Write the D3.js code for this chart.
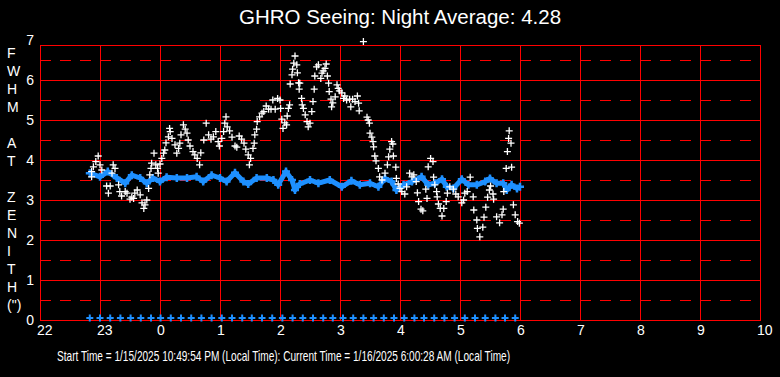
<!DOCTYPE html>
<html lang="en">
<head>
    <meta charset="UTF-8">
    <title>GHRO Seeing</title>
    <script src="https://d3js.org/d3.v7.min.js"></script>
    <style>
        body { margin: 0; background: #000; }
        text { font-family: "Liberation Sans", Arial, sans-serif; fill: #fff; }
        .grid line { stroke: #ff0000; stroke-width: 1; shape-rendering: crispEdges; }
        .grid path { display: none; }
        .half line { stroke-dasharray: 11,9; }
    </style>
</head>
<body>
    <div id="chart"></div>

    <script>
        // seeing samples: hour of night (past 24 = after midnight) and FWHM
        const seeingTimes = [22.86,22.89,22.93,22.97,23.00,23.03,22.86,23.11,23.17,23.14,23.22,23.25,23.20,23.31,23.33,23.36,23.42,23.45,23.50,23.53,23.56,23.58,23.62,23.67,23.70,23.73,23.75,23.78,23.81,23.83,23.85,23.86,23.90,23.93,23.96,23.97,24.00,24.03,24.06,24.08,24.10,24.14,24.17,24.16,24.20,24.25,24.28,24.31,24.33,24.35,24.39,24.42,24.45,24.47,24.50,24.55,24.58,24.62,24.66,24.68,24.73,24.77,24.81,24.85,24.89,24.93,24.97,24.99,25.03,25.06,25.08,25.10,25.12,25.16,25.20,25.25,25.28,25.32,25.36,25.40,25.43,25.47,25.49,25.51,25.55,25.57,25.58,25.61,25.62,25.66,25.70,25.73,25.77,25.81,25.85,25.88,25.92,25.96,26.00,26.01,26.03,26.05,26.08,26.11,26.12,26.14,26.16,26.17,26.20,26.21,26.23,26.25,26.28,26.29,26.31,26.32,26.33,26.36,26.37,26.39,26.42,26.45,26.47,26.50,26.53,26.55,26.57,26.58,26.61,26.64,26.68,26.70,26.72,26.75,26.77,26.79,26.81,26.82,26.85,26.86,26.88,26.92,26.95,26.97,26.99,27.03,27.06,27.08,27.11,27.16,27.18,27.21,27.25,27.29,27.31,27.32,27.39,27.45,27.47,27.49,27.50,27.53,27.55,27.56,27.58,27.60,27.64,27.66,27.70,27.75,27.79,27.81,27.83,27.86,27.88,27.89,27.93,27.94,27.97,28.00,28.03,28.08,28.11,28.16,28.20,28.23,28.27,28.29,28.31,28.35,28.38,28.43,28.45,28.47,28.51,28.55,28.56,28.58,28.61,28.62,28.64,28.67,28.70,28.73,28.77,28.79,28.83,28.89,28.93,28.97,29.03,29.06,29.08,29.12,29.17,29.22,29.23,29.28,29.29,29.33,29.38,29.40,29.43,29.46,29.49,29.51,29.55,29.56,29.61,29.66,29.70,29.72,29.73,29.77,29.79,29.81,29.82,29.85,29.86,29.89,29.92,29.96,29.99];
        const seeingValues = [3.71,3.83,3.96,4.10,3.88,3.75,3.58,3.35,3.35,3.17,3.88,3.79,3.67,3.38,3.21,3.10,3.21,3.17,3.02,3.07,3.04,3.17,3.25,3.13,2.93,2.79,2.88,3.00,3.29,3.63,3.79,3.92,4.17,3.88,3.79,3.67,3.90,4.04,4.17,4.25,4.43,4.58,4.71,4.79,4.54,4.38,4.17,4.29,4.42,4.63,4.88,4.77,4.67,4.50,4.35,4.21,4.13,4.04,3.88,4.18,4.50,4.92,4.63,4.52,4.58,4.71,4.46,4.35,4.54,4.71,4.92,5.08,4.83,4.73,4.57,4.35,4.32,4.60,4.52,4.42,4.27,4.13,3.88,4.04,4.29,4.42,4.63,4.77,4.96,5.08,5.17,5.21,5.35,5.27,5.27,5.50,5.27,5.54,5.50,5.29,5.02,4.79,4.93,4.88,5.10,5.29,5.38,5.90,6.13,6.27,6.42,6.60,6.38,6.18,5.93,5.77,5.92,5.54,5.38,5.29,5.13,4.96,4.83,4.92,5.21,5.46,5.77,6.10,6.33,6.38,6.04,6.17,6.23,6.29,6.40,6.10,5.92,5.71,5.52,5.33,5.43,5.58,5.88,5.79,5.73,5.68,5.54,5.60,5.50,5.52,5.33,5.52,5.46,5.60,5.42,5.23,6.96,5.07,5.00,4.92,4.67,4.57,4.46,4.33,4.10,3.98,3.79,3.58,3.50,3.67,3.88,4.08,4.27,4.46,4.40,4.10,3.82,3.54,3.40,3.29,3.21,3.15,3.33,3.67,3.58,3.63,3.46,3.18,2.96,2.77,2.73,3.27,3.04,3.83,4.04,3.96,3.57,3.38,3.21,3.08,2.90,2.79,2.60,2.79,2.96,3.17,3.33,3.27,3.15,3.08,2.93,3.00,3.17,3.21,3.57,3.08,2.75,2.50,2.29,2.08,2.32,2.57,2.82,3.07,3.25,3.35,3.15,3.02,2.58,2.43,2.63,2.77,3.21,3.79,4.21,4.54,4.73,4.42,3.82,2.88,2.63,2.46,2.42];

        // blue trace
        const trendTimes = [22.83,23.00,23.13,23.28,23.42,23.53,23.67,23.78,23.88,24.00,24.11,24.28,24.45,24.61,24.72,24.86,25.00,25.11,25.25,25.39,25.47,25.61,25.78,25.89,25.97,26.10,26.20,26.25,26.33,26.50,26.64,26.83,27.03,27.19,27.33,27.50,27.64,27.75,27.86,27.94,28.06,28.20,28.36,28.47,28.58,28.70,28.78,28.89,29.03,29.14,29.28,29.42,29.50,29.61,29.72,29.78,29.86,29.95,30.00];
        const trendValues = [3.67,3.58,3.71,3.55,3.42,3.62,3.55,3.42,3.55,3.46,3.57,3.55,3.55,3.58,3.46,3.62,3.55,3.46,3.68,3.46,3.40,3.55,3.55,3.50,3.38,3.71,3.50,3.25,3.40,3.50,3.42,3.50,3.33,3.48,3.38,3.42,3.33,3.54,3.46,3.25,3.38,3.46,3.58,3.38,3.42,3.52,3.33,3.29,3.52,3.38,3.38,3.46,3.54,3.42,3.42,3.25,3.38,3.29,3.33];

        // markers along the bottom
        const baseTimes = [22.83,23.00,23.17,23.34,23.51,23.68,23.85,24.01,24.18,24.35,24.52,24.69,24.86,25.03,25.20,25.37,25.53,25.70,25.87,26.04,26.21,26.38,26.55,26.72,26.88,27.05,27.22,27.39,27.56,27.73,27.90,28.07,28.24,28.40,28.57,28.74,28.91,29.08,29.25,29.42,29.59,29.75,29.92];
        const baseValue = 0.05;

        const hourTicks = [22,23,24,25,26,27,28,29,30,31,32,33,34];
        const fwhmTicks = [0,1,2,3,4,5,6,7];
        const halfTicks = [0.5,1.5,2.5,3.5,4.5,5.5,6.5];
        const sideLetters = ["F","W","H","M","","A","T","","Z","E","N","I","T","H","(\")"];
        const title = "GHRO Seeing: Night Average: 4.28";
        const footer = "Start Time = 1/15/2025 10:49:54 PM (Local Time): Current Time = 1/16/2025 6:00:28 AM (Local Time)";

        const W = 780, H = 377;
        const pLeft = 40, pRight = 760, pTop = 45, pBottom = 320;

        const svg = d3.select("#chart").append("svg")
            .attr("width", W).attr("height", H)
            .style("background", "#000");

        const x = d3.scaleLinear().domain([22, 34]).range([pLeft, pRight]);
        const y = d3.scaleLinear().domain([0, 7]).range([pBottom, 40]);

        // dashed half-unit lines
        svg.append("g")
            .attr("class", "grid half")
            .attr("transform", `translate(${pLeft},0)`)
            .call(d3.axisLeft(y).tickValues(halfTicks).tickSize(-(pRight - pLeft)).tickFormat(""));

        // solid grid
        svg.append("g")
            .attr("class", "grid")
            .attr("transform", `translate(${pLeft},0)`)
            .call(d3.axisLeft(y).tickValues([1,2,3,4,5,6]).tickSize(-(pRight - pLeft)).tickFormat(""));

        svg.append("g")
            .attr("class", "grid")
            .attr("transform", `translate(0,${pBottom})`)
            .call(d3.axisBottom(x).tickValues(hourTicks).tickSize(-(pBottom - pTop)).tickFormat(""));

        svg.append("rect")
            .attr("x", pLeft + 0.5).attr("y", pTop + 0.5)
            .attr("width", pRight - pLeft).attr("height", pBottom - pTop)
            .attr("fill", "none").attr("stroke", "#ff0000");

        // axis labels
        const yAxis = svg.append("g")
            .attr("transform", `translate(34,0)`)
            .call(d3.axisLeft(y).tickValues(fwhmTicks).tickSize(0).tickPadding(0).tickFormat(d3.format("d")));
        yAxis.select(".domain").remove();
        yAxis.attr("font-family", null).attr("font-size", null);
        yAxis.selectAll("text").attr("font-size", 14).attr("fill", "#fff");

        const xAxis = svg.append("g")
            .attr("transform", `translate(0,${pBottom})`)
            .call(d3.axisBottom(x).tickValues(hourTicks).tickSize(0).tickFormat(d => d % 24));
        xAxis.select(".domain").remove();
        xAxis.attr("font-family", null).attr("font-size", null);
        xAxis.selectAll("text")
            .attr("font-size", 14).attr("fill", "#fff")
            .attr("text-anchor", "start").attr("x", -3.5).attr("dy", null).attr("y", 15);

        // blue trace
        svg.append("path")
            .datum(d3.zip(trendTimes, trendValues))
            .attr("fill", "none")
            .attr("stroke", "#1e90ff")
            .attr("stroke-width", 5)
            .attr("stroke-linejoin", "round")
            .attr("d", d3.line().x(d => x(d[0])).y(d => y(d[1])));

        const plus = s => `M${-s},0H${s}M0,${-s}V${s}`;

        svg.append("g").selectAll("path")
            .data(d3.zip(trendTimes, trendValues))
            .join("path")
            .attr("transform", d => `translate(${x(d[0])},${y(d[1])})`)
            .attr("d", plus(4))
            .attr("stroke", "#1e90ff").attr("stroke-width", 2.5);

        svg.append("g").selectAll("path")
            .data(baseTimes)
            .join("path")
            .attr("transform", d => `translate(${x(d)},${y(baseValue)})`)
            .attr("d", plus(3.5))
            .attr("stroke", "#1e90ff").attr("stroke-width", 2);

        // seeing points
        svg.append("g").selectAll("path")
            .data(d3.zip(seeingTimes, seeingValues))
            .join("path")
            .attr("transform", d => `translate(${x(d[0])},${y(d[1])})`)
            .attr("d", plus(3.5))
            .attr("stroke", "#fff").attr("stroke-width", 1.3);

        // title
        svg.append("text")
            .attr("x", 400).attr("y", 24)
            .attr("text-anchor", "middle")
            .attr("font-size", 20.5)
            .text(title);

        // vertical y label
        svg.append("g").selectAll("text")
            .data(sideLetters)
            .join("text")
            .attr("x", 7)
            .attr("y", (d, i) => 58 + i * 18)
            .attr("font-size", 14)
            .text(d => d);

        svg.append("text")
            .attr("x", 57).attr("y", 360.5)
            .attr("font-size", 15)
            .attr("textLength", 453)
            .attr("lengthAdjust", "spacingAndGlyphs")
            .text(footer);
    </script>
</body>
</html>
